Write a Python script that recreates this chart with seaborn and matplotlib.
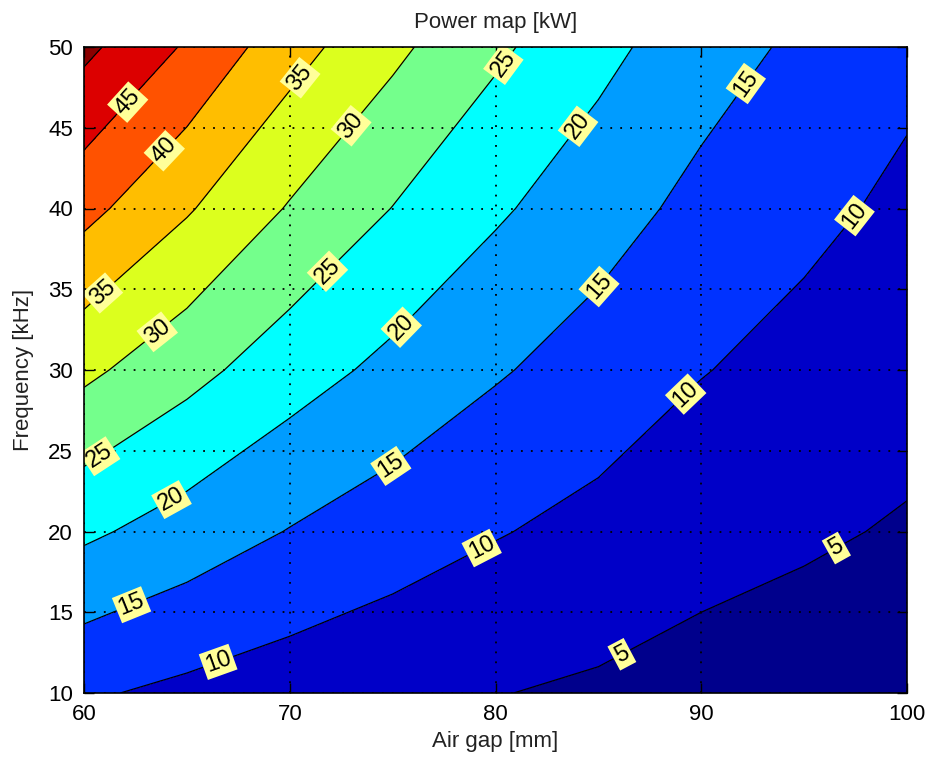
import numpy as np
import matplotlib
matplotlib.use("Agg")
import matplotlib.pyplot as plt
from matplotlib.colors import ListedColormap, BoundaryNorm
import seaborn as sns

# ---- data ----
air_gap_mm = [60, 65, 70, 75, 80, 85, 90, 95, 100]
frequency_khz = [10, 20, 30, 40, 50]
power_f10 = [10.6, 8.9, 7.4, 6.2, 5.15, 4.3, 3.3, 2.8, 2.3]
power_f20 = [20.9, 17.8, 14.8, 12.4, 10.3, 8.6, 6.7, 5.6, 4.6]
power_f30 = [31.1, 26.6, 22.2, 18.7, 15.5, 12.8, 10.2, 8.4, 6.7]
power_f40 = [41.5, 35.5, 29.6, 24.9, 20.7, 17.1, 13.6, 11.2, 9.0]
power_f50 = [51.2, 44.4, 37.0, 31.1, 25.9, 21.4, 17.2, 14.0, 11.2]
levels = [0, 5, 10, 15, 20, 25, 30, 35, 40, 45, 50, 60]
line_levels = [5, 10, 15, 20, 25, 30, 35, 40, 45, 50]
label_levels = [5, 10, 15, 20, 25, 30, 35, 40, 45]
x_ticks = [60, 70, 80, 90, 100]
y_ticks = [10, 15, 20, 25, 30, 35, 40, 45, 50]
label_spots = [(62.2, 46.5), (63.8, 43.7), (70.5, 48.1), (60.8, 34.9),
               (63.6, 32.3), (73.1, 45.0), (80.2, 49.1), (72.0, 35.9),
               (60.8, 24.6), (83.9, 45.2), (75.3, 32.8), (64.2, 22.1),
               (92.1, 47.8), (84.9, 35.3), (74.8, 24.3), (62.3, 15.5),
               (97.6, 39.4), (89.4, 28.3), (79.4, 18.8), (66.5, 12.0),
               (96.6, 18.9), (86.1, 12.5)]

band_colors = ["#00008c", "#0000c8", "#0032ff", "#009cff", "#00ffff",
               "#74ff8c", "#dcff1e", "#ffbe00", "#ff5200", "#dc0000", "#8a0000"]

sns.set_theme(style="ticks")
plt.rcParams["font.family"] = ["Liberation Sans", "DejaVu Sans"]

power = np.vstack([power_f10, power_f20, power_f30, power_f40, power_f50])
X, Y = np.meshgrid(air_gap_mm, frequency_khz)

fig = plt.figure(figsize=(9.28, 7.67), dpi=100)
fig.patch.set_facecolor("white")
ax = fig.add_axes([84 / 928, 1 - 693 / 767, (907 - 84) / 928, (693 - 47) / 767])

cmap = ListedColormap(band_colors)
norm = BoundaryNorm(levels, cmap.N)
ax.contourf(X, Y, power, levels=levels, cmap=cmap, norm=norm, zorder=1)
cs = ax.contour(X, Y, power, levels=line_levels, colors="black",
                linewidths=0.9, zorder=2)
ax.clabel(cs, levels=label_levels, fmt="%d", fontsize=17, inline=True,
          inline_spacing=3, manual=label_spots, colors="black")
for t in cs.labelTexts:
    t.set_bbox(dict(facecolor="#ffff99", edgecolor="none", pad=1.8))
    t.set_zorder(5)

ax.set_xlim(60, 100)
ax.set_ylim(10, 50)
ax.set_xticks(x_ticks)
ax.set_yticks(y_ticks)
ax.grid(True, color="black", linestyle=(0, (1, 4.5)), linewidth=1.3, zorder=3)
ax.set_axisbelow(False)
ax.tick_params(direction="in", length=7, width=1, top=True, right=True,
               labelsize=16, colors="black", pad=8)
for s in ax.spines.values():
    s.set_linewidth(1.2)
    s.set_color("black")
    s.set_zorder(6)

ax.set_title("Power map [kW]", fontsize=16, color="#222222", pad=14)
ax.set_xlabel("Air gap [mm]", fontsize=16, color="#222222", labelpad=4)
ax.set_ylabel("Frequency [kHz]", fontsize=16, color="#222222", labelpad=10)

fig.savefig("out.png", dpi=100, facecolor="white")
